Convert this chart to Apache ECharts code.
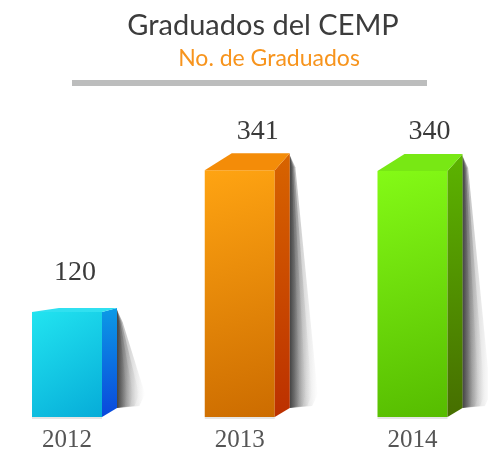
<!DOCTYPE html>
<html>
<head>
<meta charset="utf-8">
<script src="https://cdn.jsdelivr.net/npm/echarts@6/dist/echarts.min.js"></script>
<style>
  html, body { margin: 0; padding: 0; background: #fff; }
</style>
</head>
<body>
<div id="main" style="width:488px;height:453px;"></div>
<script>
// datos
var years = ['2012', '2013', '2014']
var graduados = [120, 341, 340]

// colores de cada barra: frente (claro, oscuro), lado (claro, oscuro), tapa
var palette = [
  { front: ['#22e4f0', '#06acd8'], side: ['#0c9ae6', '#0a48dc'], top: '#30e0f0' },
  { front: ['#ffa412', '#cc6c00'], side: ['#d86400', '#bc3000'], top: '#f48c08' },
  { front: ['#84fa16', '#56bc00'], side: ['#5cb400', '#466e00'], top: '#78e814' }
]
var labelShift = [8, 18, 17]

var yMin = -44
var yMax = 400

var myChart = echarts.init(document.getElementById('main'))

function grad (x, y, x2, y2, c1, c2) {
  return { type: 'linear', x: x, y: y, x2: x2, y2: y2, colorStops: [{ offset: 0, color: c1 }, { offset: 1, color: c2 }] }
}

function renderBox (params, api) {
  var i = params.dataIndex
  var p = palette[i]
  var top = api.coord([api.value(0), api.value(1)])
  var base = api.coord([api.value(0), yMin])
  var half = 35
  var x0 = top[0] - half
  var x1 = top[0] + half
  var yT = top[1]
  var yB = base[1]
  var h = yB - yT
  var dyT = 0.0915 * h - 5.6 // perspectiva de la tapa
  var dyB = 9
  var dxR = 15
  var dxL = 27
  var xb = x1 + dxR
  var shadow = []
  // sombra suave en capas
  for (var k = 0; k < 4; k++) {
    var w = 10 + k * 6
    shadow.push({
      type: 'polygon',
      shape: { points: [[xb, yT - dyT + 2], [xb + w * 0.2, yT - dyT + 14], [xb + w, yB - dyB - 14], [xb + w * 0.8, yB - dyB - 2], [xb, yB - dyB]] },
      style: { fill: grad(0, 0, 1, 0, 'rgba(40,40,40,0.4)', 'rgba(120,120,120,0)') }
    })
  }
  return {
    type: 'group',
    children: shadow.concat([
      { // reflejo base
        type: 'rect',
        shape: { x: x0, y: yB, width: half * 2, height: 2 },
        style: { fill: 'rgba(0,0,0,0.1)' }
      },
      { // frente
        type: 'rect',
        shape: { x: x0, y: yT, width: half * 2, height: h },
        style: { fill: grad(0, 0, 1, 1, p.front[0], p.front[1]) }
      },
      { // lado
        type: 'polygon',
        shape: { points: [[x1, yT], [xb, yT - dyT], [xb, yB - dyB], [x1, yB]] },
        style: { fill: grad(0, 0, 0, 1, p.side[0], p.side[1]) }
      },
      { // tapa
        type: 'polygon',
        shape: { points: [[x0, yT], [x1, yT], [xb, yT - dyT], [x0 + dxL, yT - dyT]] },
        style: { fill: p.top }
      },
      { // valor
        type: 'text',
        style: {
          text: String(api.value(1)),
          x: top[0] + labelShift[i],
          y: yT - 39,
          align: 'center',
          verticalAlign: 'middle',
          fontFamily: 'Liberation Serif',
          fontSize: 28,
          fill: '#3a3a3a'
        }
      }
    ])
  }
}

var option = {
  animation: false,
  title: [
    {
      text: 'Graduados del CEMP',
      left: 258,
      top: 6,
      textAlign: 'center',
      textStyle: { fontFamily: 'Lato', fontSize: 29, fontWeight: 'normal', color: '#3c3c3c' }
    },
    {
      text: 'No. de Graduados',
      left: 264,
      top: 42,
      textAlign: 'center',
      textStyle: { fontFamily: 'Lato', fontSize: 23, fontWeight: 'normal', color: '#f7941d' }
    }
  ],
  graphic: [
    {
      type: 'rect',
      shape: { x: 72, y: 80, width: 355, height: 6 },
      style: { fill: '#bcbdbd' }
    }
  ],
  grid: { left: 67, right: 75.5, top: 132.5, bottom: 35 },
  xAxis: {
    type: 'category',
    data: years,
    boundaryGap: false,
    axisLine: { show: false },
    axisTick: { show: false },
    axisLabel: { margin: 11, fontFamily: 'Liberation Serif', fontSize: 25, color: '#555' }
  },
  yAxis: {
    type: 'value',
    min: yMin,
    max: yMax,
    show: false,
    splitLine: { show: false }
  },
  series: [
    {
      type: 'custom',
      renderItem: renderBox,
      data: years.map(function (y, i) { return [i, graduados[i]] })
    }
  ]
}

myChart.setOption(option)
</script>
</body>
</html>
